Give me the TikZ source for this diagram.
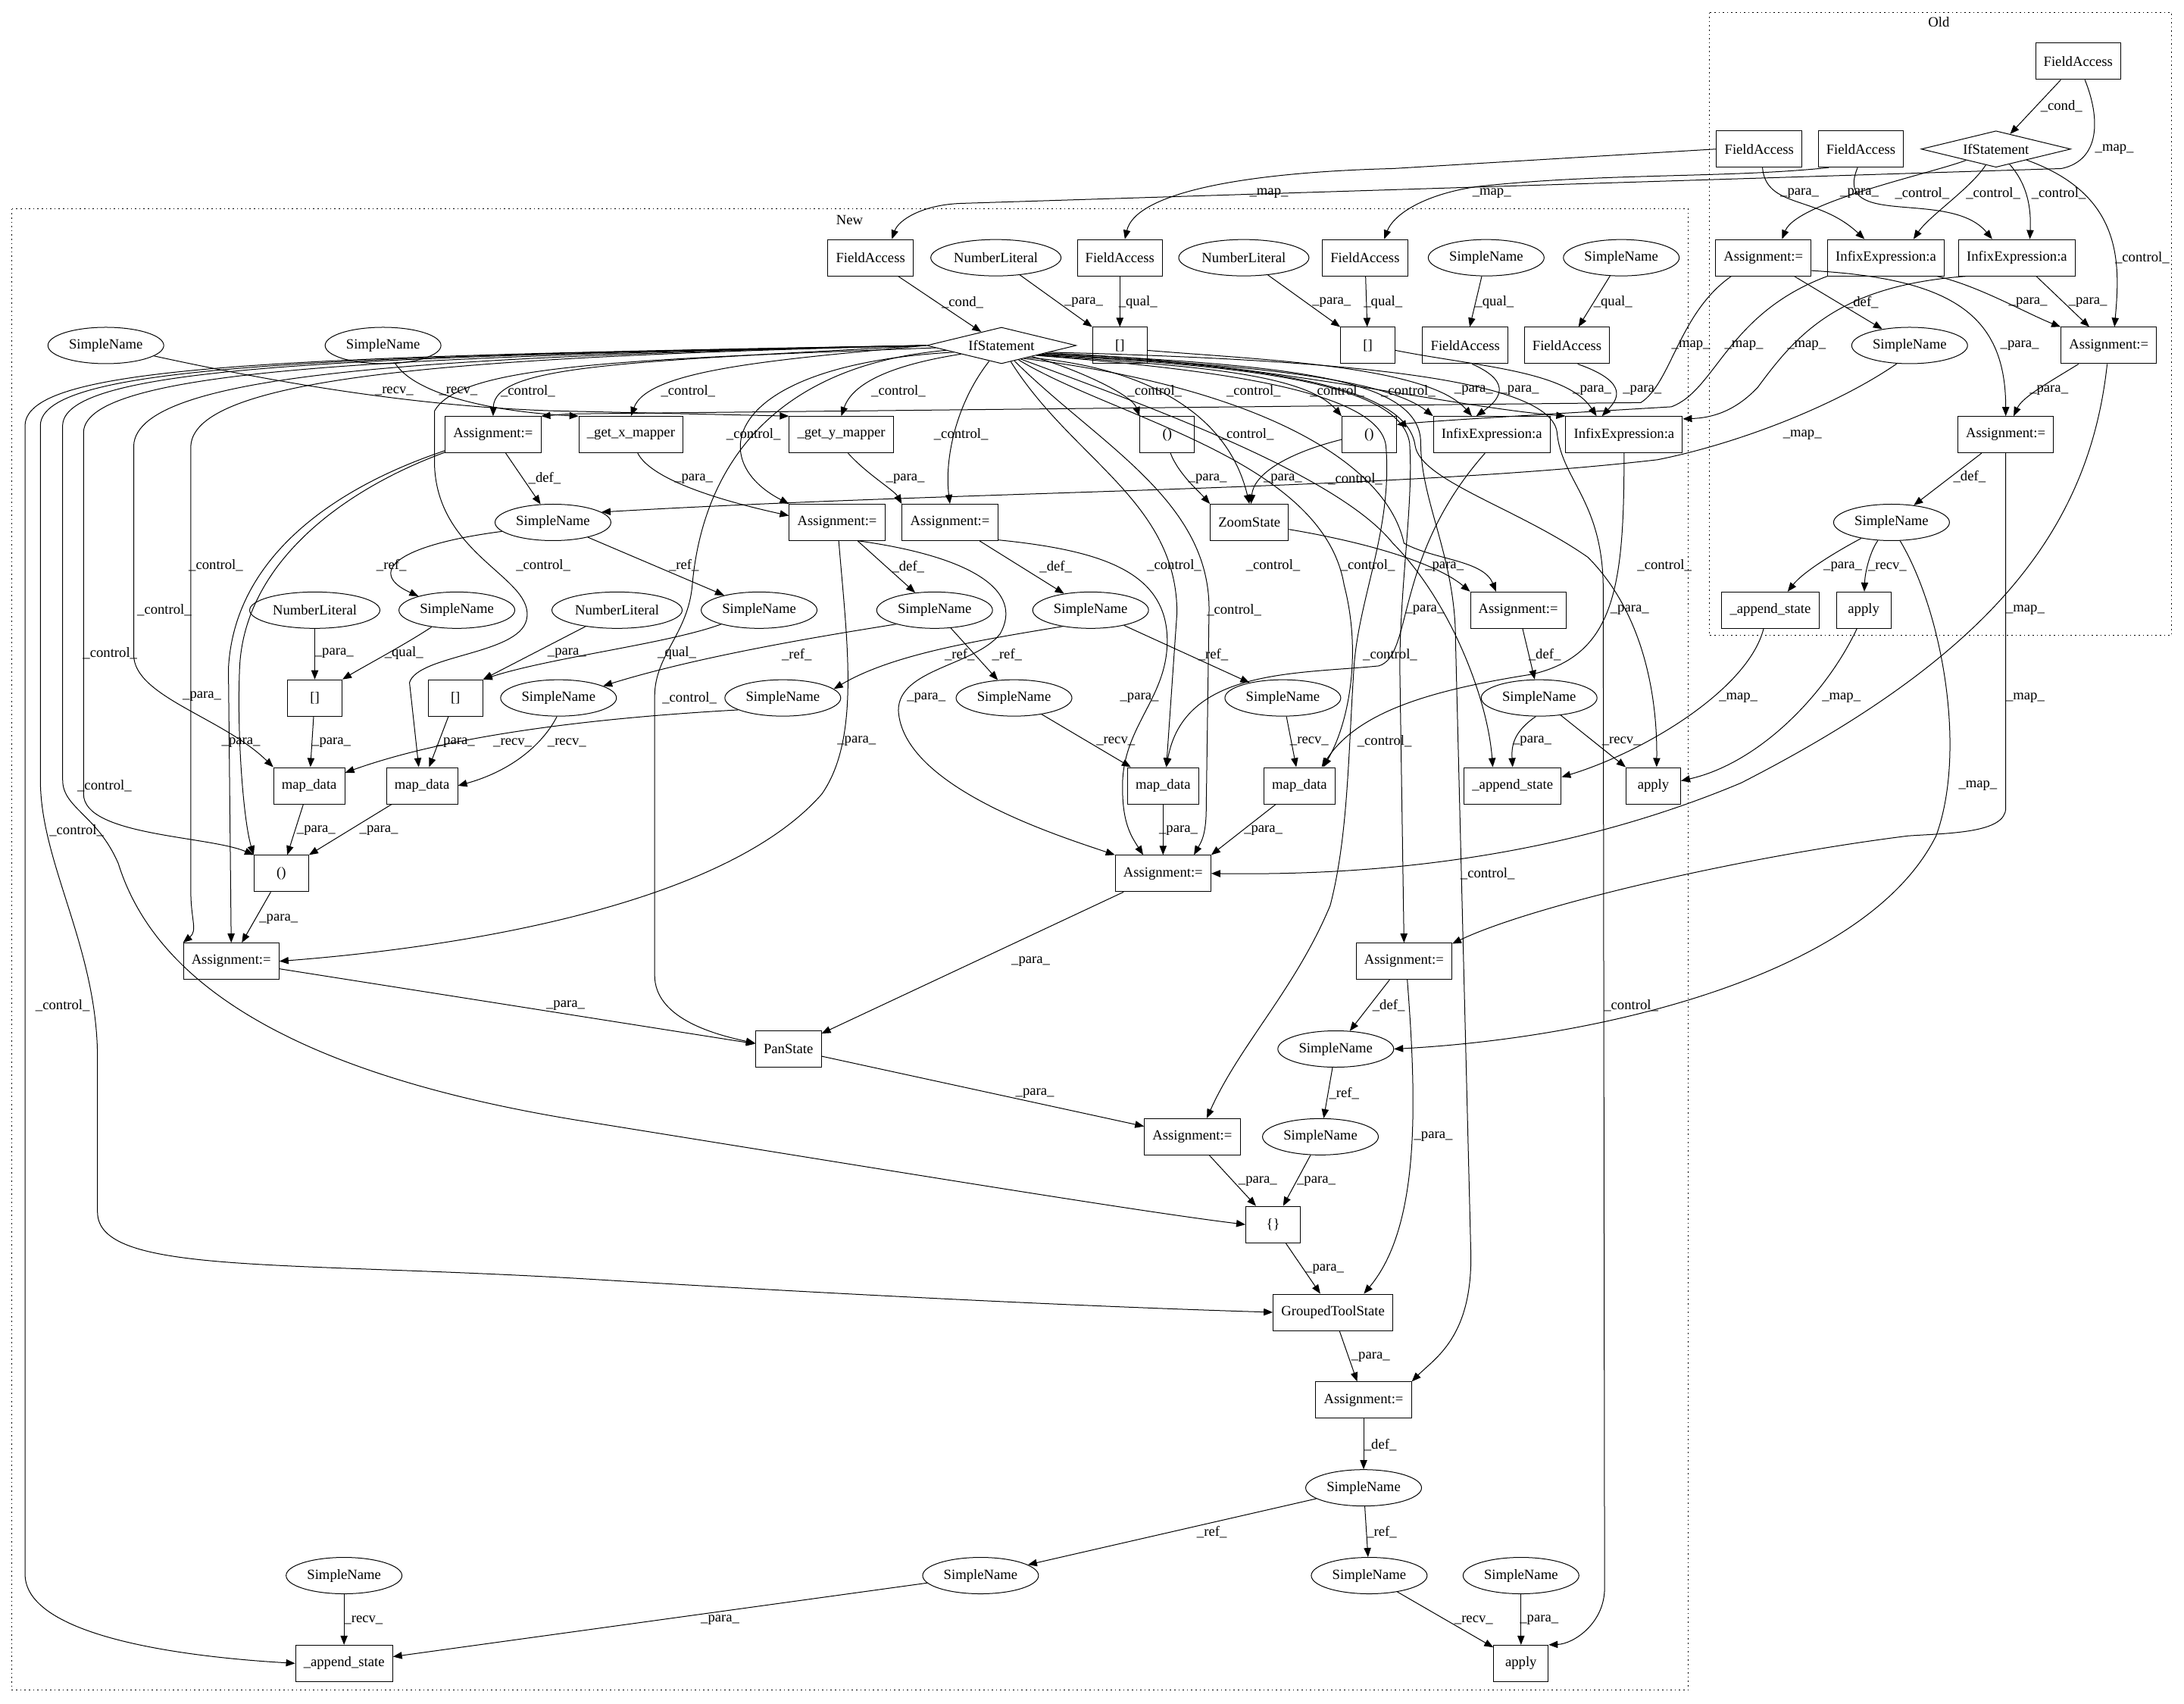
\documentclass[tikz,border=0pt]{standalone}
\usepackage{fontspec}
\setmainfont{Liberation Serif}
\usetikzlibrary{shapes.geometric,arrows.meta}

\begin{document}
\begin{tikzpicture}
[x=1.379pt,y=-1.379pt,line width=0.75pt,
 every node/.style={font=\fontsize{14pt}{16pt}\selectfont},
 box/.style={draw,rectangle,minimum height=36pt,minimum width=54pt,inner xsep=8pt},
 oval/.style={draw,ellipse,minimum height=36pt,inner xsep=4pt,inner ysep=2pt},
 cond/.style={draw,diamond,aspect=4,minimum width=148pt,minimum height=36pt,inner sep=1pt},
 flow/.style={draw,-{Triangle[length=9pt,width=7pt]}},
 lbl/.style={inner sep=1pt},
 clu/.style={line width=0.8pt,dash pattern=on 1.2pt off 3pt}]
\fill[white] (0,0) rectangle (1568,1223);
\useasboundingbox (0,0) rectangle (1568,1223);
\draw[clu] (1227,9) rectangle (1559,456);
\draw[clu] (8.5,150) rectangle (1212,1213);
\node (oldtag) at (1392,16) {Old};
\node (newtag) at (610,158) {New};

\node[box] (o1) at (1492,44) {FieldAccess};
\node[cond] (oif) at (1433,107) {IfStatement};
\node[box] (o2) at (1263,107) {FieldAccess};
\node[box] (o3) at (1336,107) {FieldAccess};
\node[box] (o4) at (1266,185) {Assignment:=};
\node[box] (o5) at (1354,185) {InfixExpression:a};
\node[box] (o6) at (1448,185) {InfixExpression:a};
\node[oval] (o8) at (1371,248) {SimpleName};
\node[box] (o7) at (1514,248) {Assignment:=};
\node[box] (o9) at (1440,312) {Assignment:=};
\node[oval] (o10) at (1358,375) {SimpleName};
\node[box] (o11) at (1271,438) {\_append\_state};
\node[box] (o12) at (1338,438) {apply};

\node[box] (n1) at (625,185) {FieldAccess};
\node[oval] (n2) at (715,185) {NumberLiteral};
\node[box] (n3) at (804,185) {FieldAccess};
\node[oval] (n4) at (893,185) {NumberLiteral};
\node[box] (n5) at (980,185) {FieldAccess};
\node[oval] (n6) at (1067,185) {SimpleName};
\node[oval] (n7) at (1164,185) {SimpleName};
\node[oval] (n13) at (76,248) {SimpleName};
\node[oval] (n14) at (275,248) {SimpleName};
\node[cond] (n8) at (719,248) {IfStatement};
\node[box] (n9) at (804,248) {[]};
\node[box] (n10) at (982,248) {[]};
\node[box] (n11) at (1052,248) {FieldAccess};
\node[box] (n12) at (1125,248) {FieldAccess};
\node[box] (n15) at (354,312) {Assignment:=};
\node[box] (n16) at (453,312) {\_get\_x\_mapper};
\node[box] (n17) at (604,312) {\_get\_y\_mapper};
\node[box] (n18) at (838,312) {()};
\node[box] (n19) at (983,312) {()};
\node[box] (n20) at (1071,312) {InfixExpression:a};
\node[box] (n21) at (1166,312) {InfixExpression:a};
\node[oval] (n25) at (397,375) {SimpleName};
\node[box] (n22) at (601,375) {Assignment:=};
\node[box] (n23) at (682,375) {Assignment:=};
\node[box] (n24) at (897,375) {ZoomState};
\node[oval] (n31) at (226,438) {NumberLiteral};
\node[oval] (n26) at (328,438) {SimpleName};
\node[oval] (n32) at (443,438) {NumberLiteral};
\node[oval] (n27) at (545,438) {SimpleName};
\node[oval] (n28) at (671,438) {SimpleName};
\node[oval] (n29) at (783,438) {SimpleName};
\node[box] (n30) at (1090,438) {Assignment:=};
\node[box] (n33) at (226,501) {[]};
\node[box] (n34) at (327,501) {[]};
\node[oval] (n35) at (401,501) {SimpleName};
\node[oval] (n36) at (562,501) {SimpleName};
\node[oval] (n37) at (728,501) {SimpleName};
\node[oval] (n38) at (921,501) {SimpleName};
\node[oval] (n39) at (1105,501) {SimpleName};
\node[box] (n40) at (222,564) {map\_data};
\node[box] (n41) at (303,564) {map\_data};
\node[box] (n42) at (835,564) {map\_data};
\node[box] (n43) at (933,564) {map\_data};
\node[box] (n44) at (1086,564) {\_append\_state};
\node[box] (n45) at (1187,564) {apply};
\node[box] (n46) at (202,627) {()};
\node[box] (n47) at (835,627) {Assignment:=};
\node[box] (n48) at (166,690) {Assignment:=};
\node[box] (n49) at (1008,690) {Assignment:=};
\node[box] (n50) at (566,753) {PanState};
\node[oval] (n51) at (959,753) {SimpleName};
\node[box] (n52) at (856,816) {Assignment:=};
\node[oval] (n53) at (948,816) {SimpleName};
\node[box] (n54) at (914,879) {\{\}};
\node[box] (n55) at (957,942) {GroupedToolState};
\node[box] (n56) at (979,1005) {Assignment:=};
\node[oval] (n57) at (979,1068) {SimpleName};
\node[oval] (n58) at (247,1131) {SimpleName};
\node[oval] (n59) at (704,1131) {SimpleName};
\node[oval] (n60) at (983,1131) {SimpleName};
\node[oval] (n61) at (1092,1131) {SimpleName};
\node[box] (n62) at (247,1194) {\_append\_state};
\node[box] (n63) at (1092,1194) {apply};

\draw[flow] (o1) -- (oif) node[lbl,at={(1480,76)}] {\_cond\_};
\draw[flow] (o1.-70) .. controls (1508,85) and (1508,115) .. (1480,121) -- (690,146) .. controls (662,147) and (645,158) .. (n1.41) node[lbl,at={(1518,107)}] {\_map\_};
\draw[flow] (oif) .. controls (1385,125) and (1290,145) .. (o4.45) node[lbl,at={(1380,139)}] {\_control\_};
\draw[flow] (oif) .. controls (1415,135) and (1385,155) .. (o5.34) node[lbl,at={(1431,139)}] {\_control\_};
\draw[flow] (oif) .. controls (1458,135) and (1458,155) .. (o6.55) node[lbl,at={(1478,139)}] {\_control\_};
\draw[flow] (oif) .. controls (1525,140) and (1522,190) .. (o7.73) node[lbl,at={(1538,185)}] {\_control\_};
\draw[flow] (o2.-80) .. controls (1268,150) and (1305,140) .. (o5.139) node[lbl,at={(1292,139)}] {\_para\_};
\draw[flow] (o3.-100) .. controls (1315,165) and (1400,135) .. (o6.143) node[lbl,at={(1335,139)}] {\_para\_};
\draw[flow] (o2.west) -- (1000,121) .. controls (885,124) and (815,140) .. (n3.75) node[lbl,at={(911,139)}] {\_map\_};
\draw[flow] (o3.-150) .. controls (1240,128) and (1150,124) .. (1060,134) .. controls (1020,140) and (1000,155) .. (n5.44) node[lbl,at={(1071,139)}] {\_map\_};
\draw[flow] (o4) -- (o8) node[lbl,at={(1337,217)}] {\_def\_};
\draw[flow] (o4.-15) .. controls (1400,200) and (1440,225) .. (o9) node[lbl,at={(1450,248)}] {\_para\_};
\draw[flow] (o4.-150) .. controls (1205,225) and (1200,275) .. (1178,289) -- (420,297) .. controls (405,297) and (398,298) .. (n15.north east) node[lbl,at={(1214,248)}] {\_map\_};
\draw[flow] (o5.south west) .. controls (1240,225) and (1232,280) .. (1200,292) .. controls (1100,298) and (1030,302) .. (n19.20) node[lbl,at={(1252,248)}] {\_map\_};
\draw[flow] (o6.-160) .. controls (1320,205) and (1290,240) .. (1262,278) .. controls (1245,296) and (1228,300) .. (n21.15) node[lbl,at={(1297,248)}] {\_map\_};
\draw[flow] (o5.-20) .. controls (1420,205) and (1455,225) .. (o7.north west) node[lbl,at={(1456,217)}] {\_para\_};
\draw[flow] (o6) -- (o7) node[lbl,at={(1499,217)}] {\_para\_};
\draw[flow] (o7) .. controls (1470,275) and (1452,285) .. (o9.67) node[lbl,at={(1471,280)}] {\_para\_};
\draw[flow] (o9) -- (o10) node[lbl,at={(1414,342)}] {\_def\_};
\draw[flow] (o10) .. controls (1320,395) and (1295,410) .. (o11.47) node[lbl,at={(1323,407)}] {\_para\_};
\draw[flow] (o10) .. controls (1343,395) and (1339,410) .. (o12) node[lbl,at={(1355,407)}] {\_recv\_};
\draw[flow] (o9.south) -- (1440,580) .. controls (1440,598) and (1400,598) .. (1370,600) .. controls (1250,615) and (1100,650) .. (n49.20) node[lbl,at={(1454,501)}] {\_map\_};
\draw[flow] (o7.-95) .. controls (1500,380) and (1430,470) .. (1250,562) .. controls (1100,625) and (950,628) .. (n47.east) node[lbl,at={(1454,438)}] {\_map\_};
\draw[flow] (o10.-65) .. controls (1395,440) and (1412,540) .. (1390,600) .. controls (1340,700) and (1150,745) .. (n51.east) node[lbl,at={(1420,564)}] {\_map\_};
\draw[flow] (o8.-125) .. controls (1320,290) and (1250,318) .. (1190,330) .. controls (1000,352) and (700,352) .. (n25.12) node[lbl,at={(1294,312)}] {\_map\_};
\draw[flow] (o11.-110) .. controls (1255,495) and (1180,540) .. (n44.10) node[lbl,at={(1248,501)}] {\_map\_};
\draw[flow] (o12.-110) .. controls (1310,500) and (1262,548) .. (n45.10) node[lbl,at={(1322,501)}] {\_map\_};

\draw[flow] (n1) -- (n8) node[lbl,at={(691,217)}] {\_cond\_};
\draw[flow] (n2) -- (n9.north west) node[lbl,at={(778,217)}] {\_para\_};
\draw[flow] (n3) -- (n9) node[lbl,at={(817,217)}] {\_qual\_};
\draw[flow] (n4) -- (n10.north west) node[lbl,at={(956,217)}] {\_para\_};
\draw[flow] (n5) -- (n10) node[lbl,at={(993,217)}] {\_qual\_};
\draw[flow] (n6) -- (n11) node[lbl,at={(1073,217)}] {\_qual\_};
\draw[flow] (n7) -- (n12) node[lbl,at={(1158,217)}] {\_qual\_};
\draw[flow] (n9.-10) .. controls (900,258) and (1025,262) .. (n20.137) node[lbl,at={(1058,280)}] {\_para\_};
\draw[flow] (n11.-70) .. controls (1088,275) and (1075,288) .. (n20.130) node[lbl,at={(1091,280)}] {\_para\_};
\draw[flow] (n10.-10) .. controls (1060,263) and (1125,266) .. (n21.146) node[lbl,at={(1143,280)}] {\_para\_};
\draw[flow] (n12.-60) .. controls (1172,275) and (1160,288) .. (n21.140) node[lbl,at={(1179,280)}] {\_para\_};
\draw[flow] (n14) .. controls (300,285) and (360,296) .. (n16.north west) node[lbl,at={(329,281)}] {\_recv\_};
\draw[flow] (n13) .. controls (200,275) and (300,292) .. (400,295) -- (n17.north west) node[lbl,at={(283,281)}] {\_recv\_};

\draw[flow] (n8.west) .. controls (450,260) and (355,262) .. (n15.north) node[lbl,at={(379,281)}] {\_control\_};
\draw[flow] (n8.west) .. controls (560,258) and (465,265) .. (n16.north) node[lbl,at={(494,281)}] {\_control\_};
\draw[flow] (n8.-168) .. controls (640,262) and (612,275) .. (n17.north) node[lbl,at={(645,281)}] {\_control\_};
\draw[flow] (n8.-20) .. controls (765,262) and (812,282) .. (n18.north west) node[lbl,at={(829,281)}] {\_control\_};
\draw[flow] (n8.-15) .. controls (840,262) and (935,266) .. (n19.north west) node[lbl,at={(900,281)}] {\_control\_};
\draw[flow] (n8.-12) .. controls (860,260) and (990,268) .. (n20.north west) node[lbl,at={(960,281)}] {\_control\_};
\draw[flow] (n8.-10) .. controls (900,258) and (1040,292) .. (n21.north west) node[lbl,at={(1011,281)}] {\_control\_};
\draw[flow] (n8.-172) .. controls (520,262) and (505,330) .. (n22.north west) node[lbl,at={(541,312)}] {\_control\_};
\draw[flow] (n8) .. controls (686,290) and (678,330) .. (n23.north) node[lbl,at={(690,312)}] {\_control\_};
\draw[flow] (n8.-25) .. controls (810,262) and (880,290) .. (n24.north) node[lbl,at={(895,312)}] {\_control\_};
\draw[flow] (n8.-30) .. controls (900,278) and (995,330) .. (1008,390) .. controls (1030,402) and (1065,402) .. (n30.140) node[lbl,at={(973,344)}] {\_control\_};
\draw[flow] (n16.-70) .. controls (468,345) and (520,360) .. (n22.172) node[lbl,at={(498,344)}] {\_para\_};
\draw[flow] (n17.-70) .. controls (622,340) and (642,352) .. (n23.north west) node[lbl,at={(650,344)}] {\_para\_};
\draw[flow] (n18.-80) .. controls (846,340) and (860,352) .. (n24.north west) node[lbl,at={(867,344)}] {\_para\_};
\draw[flow] (n19.-170) .. controls (925,325) and (900,340) .. (n24.85) node[lbl,at={(921,344)}] {\_para\_};
\draw[flow] (n24.-10) .. controls (985,390) and (1032,405) .. (n30.north west) node[lbl,at={(1037,407)}] {\_para\_};

\draw[flow] (n15) -- (n25) node[lbl,at={(391,343)}] {\_def\_};
\draw[flow] (n22) -- (n28) node[lbl,at={(652,407)}] {\_def\_};
\draw[flow] (n23) -- (n29) node[lbl,at={(758,407)}] {\_def\_};
\draw[flow] (n30) -- (n39) node[lbl,at={(1109,470)}] {\_def\_};
\draw[flow] (n25.-170) .. controls (280,392) and (265,412) .. (n26.160) node[lbl,at={(281,406)}] {\_ref\_};
\draw[flow] (n25) -- (n27) node[lbl,at={(491,406)}] {\_ref\_};
\draw[flow] (n26) .. controls (292,462) and (262,478) .. (n33.north east) node[lbl,at={(290,469)}] {\_qual\_};
\draw[flow] (n31) -- (n33) node[lbl,at={(240,469)}] {\_para\_};
\draw[flow] (n27) .. controls (480,462) and (395,472) .. (n34.north east) node[lbl,at={(486,469)}] {\_qual\_};
\draw[flow] (n32) -- (n34.north east) node[lbl,at={(407,469)}] {\_para\_};
\draw[flow] (n28.-160) .. controls (600,455) and (505,470) .. (n35.15) node[lbl,at={(572,470)}] {\_ref\_};
\draw[flow] (n28) -- (n37) node[lbl,at={(723,470)}] {\_ref\_};
\draw[flow] (n29.-150) .. controls (700,460) and (640,470) .. (n36.10) node[lbl,at={(689,470)}] {\_ref\_};
\draw[flow] (n29) -- (n38) node[lbl,at={(871,470)}] {\_ref\_};
\draw[flow] (n33) -- (n40) node[lbl,at={(238,533)}] {\_para\_};
\draw[flow] (n34) -- (n41) node[lbl,at={(327,533)}] {\_para\_};
\draw[flow] (n36.-165) .. controls (380,518) and (300,536) .. (n40.20) node[lbl,at={(368,533)}] {\_recv\_};
\draw[flow] (n35.-95) .. controls (392,530) and (372,552) .. (n41.east) node[lbl,at={(407,533)}] {\_recv\_};
\draw[flow] (n37) -- (n42.150) node[lbl,at={(801,532)}] {\_recv\_};
\draw[flow] (n38) -- (n43.100) node[lbl,at={(940,532)}] {\_recv\_};
\draw[flow] (n39.-100) .. controls (1087,525) and (1085,535) .. (n44.north) node[lbl,at={(1100,532)}] {\_para\_};
\draw[flow] (n39) -- (n45.north west) node[lbl,at={(1164,532)}] {\_recv\_};
\draw[flow] (n20.-110) .. controls (1000,400) and (1015,470) .. (990,478) .. controls (930,484) and (850,480) .. (n42.80) node[lbl,at={(1023,438)}] {\_para\_};
\draw[flow] (n21.-90) .. controls (1166,420) and (1160,470) .. (1100,484) .. controls (1030,495) and (975,510) .. (n43.40) node[lbl,at={(1170,438)}] {\_para\_};
\draw[flow] (n22.-40) .. controls (700,400) and (735,425) .. (718,455) .. controls (700,478) and (645,480) .. (645,510) .. controls (648,565) and (760,600) .. (n47.north west) node[lbl,at={(665,501)}] {\_para\_};
\draw[flow] (n23.-20) .. controls (790,395) and (838,410) .. (838,460) .. controls (838,500) and (808,520) .. (806,560) .. controls (805,590) and (812,600) .. (n47.137) node[lbl,at={(818,501)}] {\_para\_};
\draw[flow] (n22.-85) .. controls (608,460) and (618,530) .. (590,570) .. controls (520,650) and (330,680) .. (n48.east) node[lbl,at={(615,532)}] {\_para\_};
\draw[flow] (n15) .. controls (240,350) and (168,400) .. (164,480) -- (n48.north) node[lbl,at={(145,500)}] {\_para\_};
\draw[flow] (n15) .. controls (245,352) and (175,405) .. (172,480) .. controls (170,530) and (175,590) .. (n46.north west) node[lbl,at={(173,533)}] {\_para\_};
\draw[flow] (n40) -- (n46) node[lbl,at={(227,596)}] {\_para\_};
\draw[flow] (n41) -- (n46.north east) node[lbl,at={(272,596)}] {\_para\_};
\draw[flow] (n46) -- (n48) node[lbl,at={(200,660)}] {\_para\_};
\draw[flow] (n42) -- (n47) node[lbl,at={(846,596)}] {\_para\_};
\draw[flow] (n43) -- (n47.north east) node[lbl,at={(907,596)}] {\_para\_};

\draw[flow] (n8.west) .. controls (350,256) and (140,268) .. (137,320) -- (137,640) .. controls (137,660) and (142,668) .. (n48.north west) node[lbl,at={(155,406)}] {\_control\_};
\draw[flow] (n8.west) .. controls (320,256) and (98,266) .. (96,320) -- (96,470) .. controls (96,500) and (160,515) .. (n40.north west) node[lbl,at={(118,438)}] {\_control\_};
\draw[flow] (n8.west) .. controls (290,256) and (62,264) .. (60,310) -- (60,570) .. controls (60,600) and (150,600) .. (n46.north west) node[lbl,at={(79,469)}] {\_control\_};
\draw[flow] (n8.west) .. controls (260,256) and (47,262) .. (45,305) -- (45,560) .. controls (45,580) and (70,585) .. (85,620) .. controls (110,700) and (200,770) .. (420,805) .. controls (650,842) and (820,870) .. (n54.west) node[lbl,at={(75,564)}] {\_control\_};
\draw[flow] (n8.west) .. controls (230,256) and (31,262) .. (29,305) -- (29,560) .. controls (29,620) and (70,680) .. (70,760) -- (70,870) .. controls (70,915) and (200,905) .. (420,918) .. controls (700,935) and (850,940) .. (n55.west) node[lbl,at={(55,596)}] {\_control\_};
\draw[flow] (n8.west) .. controls (200,256) and (20,262) .. (18,305) -- (18,1130) .. controls (18,1170) and (110,1188) .. (n62.west) node[lbl,at={(45,722)}] {\_control\_};
\draw[flow] (n8.-178) .. controls (450,258) and (330,262) .. (312,295) -- (312,335) .. controls (315,400) and (385,415) .. (378,445) .. controls (372,470) and (300,470) .. (294,490) -- (n41.100) node[lbl,at={(390,406)}] {\_control\_};
\draw[flow] (n8.-175) .. controls (560,262) and (505,330) .. (497,420) .. controls (494,455) and (470,470) .. (470,500) -- (470,700) .. controls (470,730) and (510,742) .. (n50.170) node[lbl,at={(495,501)}] {\_control\_};
\draw[flow] (n8.-60) .. controls (770,330) and (845,360) .. (845,440) -- (n42.80) node[lbl,at={(843,406)}] {\_control\_};
\draw[flow] (n8.-50) .. controls (790,320) and (870,360) .. (868,440) -- (866,580) .. controls (866,600) and (862,605) .. (n47.31) node[lbl,at={(886,438)}] {\_control\_};
\draw[flow] (n8.-40) .. controls (800,300) and (950,330) .. (965,420) .. controls (978,470) and (968,520) .. (n43.38) node[lbl,at={(914,406)}] {\_control\_};
\draw[flow] (n8.-35) .. controls (820,290) and (960,340) .. (1000,390) .. controls (1040,430) and (1068,500) .. (n44.137) node[lbl,at={(982,406)}] {\_control\_};
\draw[flow] (n8.-12) .. controls (900,262) and (1010,275) .. (1016,320) .. controls (1020,345) and (1090,365) .. (1140,400) .. controls (1180,440) and (1190,500) .. (n45.80) node[lbl,at={(1195,406)}] {\_control\_};
\draw[flow] (n8.-14) .. controls (880,262) and (1005,272) .. (1012,318) .. controls (1015,360) and (1005,420) .. (1005,480) -- (n49.north) node[lbl,at={(998,470)}] {\_control\_};
\draw[flow] (n8.-16) .. controls (870,265) and (990,280) .. (995,320) .. controls (1000,380) and (975,430) .. (972,480) .. controls (968,540) and (968,600) .. (955,650) .. controls (930,710) and (890,750) .. (n52.52) node[lbl,at={(994,532)}] {\_control\_};
\draw[flow] (n8.-10) .. controls (920,262) and (1020,270) .. (1020,318) .. controls (1020,360) and (1045,400) .. (1045,460) -- (1056,900) .. controls (1057,960) and (1030,975) .. (n56.north east) node[lbl,at={(1068,627)}] {\_control\_};
\draw[flow] (n8.-8) .. controls (950,258) and (1117,270) .. (1118,312) .. controls (1122,345) and (1150,360) .. (1151,420) -- (1152,1140) .. controls (1152,1165) and (1130,1180) .. (n63.north east) node[lbl,at={(1171,722)}] {\_control\_};

\draw[flow] (n47) -- (n50) node[lbl,at={(740,690)}] {\_para\_};
\draw[flow] (n48) -- (n50) node[lbl,at={(406,722)}] {\_para\_};
\draw[flow] (n49) -- (n51) node[lbl,at={(997,722)}] {\_def\_};
\draw[flow] (n49.-80) .. controls (1017,790) and (1020,880) .. (n55.31) node[lbl,at={(1029,816)}] {\_para\_};
\draw[flow] (n50) -- (n52) node[lbl,at={(743,785)}] {\_para\_};
\draw[flow] (n51) -- (n53) node[lbl,at={(965,785)}] {\_ref\_};
\draw[flow] (n52) -- (n54) node[lbl,at={(903,848)}] {\_para\_};
\draw[flow] (n53) -- (n54) node[lbl,at={(945,848)}] {\_para\_};
\draw[flow] (n54) -- (n55) node[lbl,at={(951,911)}] {\_para\_};
\draw[flow] (n55) -- (n56) node[lbl,at={(984,974)}] {\_para\_};
\draw[flow] (n56) -- (n57) node[lbl,at={(991,1037)}] {\_def\_};
\draw[flow] (n57) -- (n59) node[lbl,at={(870,1100)}] {\_ref\_};
\draw[flow] (n57) -- (n60) node[lbl,at={(992,1100)}] {\_ref\_};
\draw[flow] (n58) -- (n62) node[lbl,at={(261,1163)}] {\_recv\_};
\draw[flow] (n59) -- (n62) node[lbl,at={(517,1163)}] {\_para\_};
\draw[flow] (n60) -- (n63) node[lbl,at={(1058,1163)}] {\_recv\_};
\draw[flow] (n61) -- (n63) node[lbl,at={(1105,1163)}] {\_para\_};
\end{tikzpicture}
\end{document}
